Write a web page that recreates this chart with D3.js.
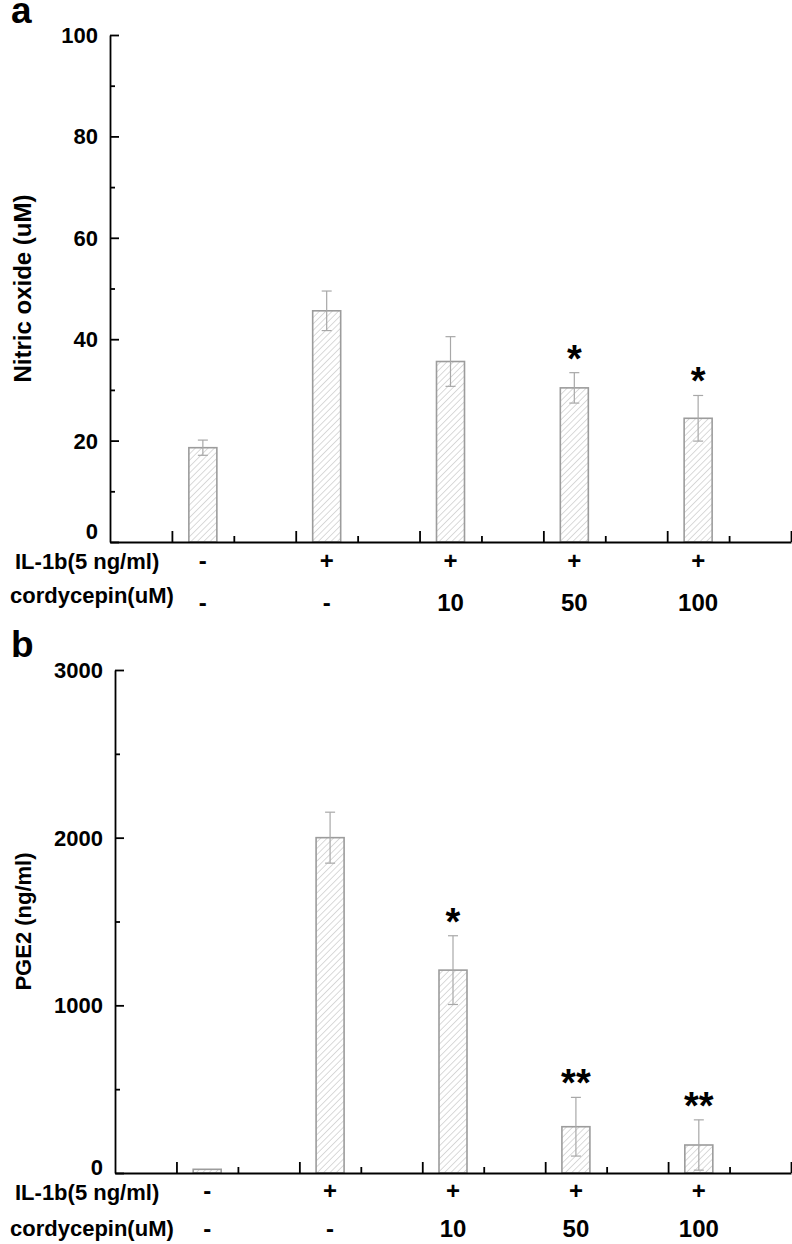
<!DOCTYPE html>
<html>
<head>
<meta charset="utf-8">
<script src="https://cdn.jsdelivr.net/npm/d3@7"></script>
<style>
  body { margin: 0; background: #fff; }
  svg { font-family: "Liberation Sans", Arial, sans-serif; font-weight: bold; }
</style>
</head>
<body>
<div id="chart"></div>
<script>
// data
var groups = [1, 2, 3, 4, 5]
var il1bLabels = ['-', '+', '+', '+', '+']
var cordyLabels = ['-', '-', '10', '50', '100']

var noMeans = [18.6, 45.6, 35.6, 30.4, 24.4]
var noErrs = [1.5, 3.9, 4.9, 3.0, 4.5]
var noStars = ['', '', '', '*', '*']
var noTicks = [0, 20, 40, 60, 80, 100]
var noMinor = [10, 30, 50, 70, 90]

var pgeMeans = [22, 2000, 1210, 276, 167]
var pgeErrs = [0, 152, 205, 175, 150]
var pgeStars = ['', '', '*', '**', '**']
var pgeTicks = [0, 1000, 2000, 3000]
var pgeMinor = [500, 1500, 2500]

var xMajor = [0.75, 1.75, 2.75, 3.75, 4.75, 5.75]
var xMinor = [1.25, 2.25, 3.25, 4.25, 5.25]

var W = 792, H = 1244
var barW = 28

var svg = d3.select('#chart').append('svg')
    .attr('width', W)
    .attr('height', H)

// hatch fill for the bars
var defs = svg.append('defs')
defs.append('pattern')
    .attr('id', 'hatch')
    .attr('patternUnits', 'userSpaceOnUse')
    .attr('width', 4.5)
    .attr('height', 4.5)
    .attr('patternTransform', 'rotate(45)')
  .append('line')
    .attr('x1', 0).attr('y1', 0)
    .attr('x2', 0).attr('y2', 4.5)
    .attr('stroke', '#adadad')
    .attr('stroke-width', 0.9)

drawPanel({
    letter: 'a', letterY: 23,
    left: 110, right: 791, top: 35, bottom: 542,
    max: 100, ticks: noTicks, minor: noMinor, zeroShift: -11,
    means: noMeans, errs: noErrs, stars: noStars,
    ylabel: 'Nitric oxide (uM)', ylabelSize: 24,
    row1: 569, row2: 611, label1: 569, label2: 603
})

drawPanel({
    letter: 'b', letterY: 657,
    left: 115, right: 791, top: 670, bottom: 1173,
    max: 3000, ticks: pgeTicks, minor: pgeMinor, zeroShift: -6,
    means: pgeMeans, errs: pgeErrs, stars: pgeStars,
    ylabel: 'PGE2 (ng/ml)', ylabelSize: 22,
    row1: 1199, row2: 1237, label1: 1200, label2: 1236
})

function drawPanel(p)
{
    var g = svg.append('g')

    var x = d3.scaleLinear()
        .domain([0.25, 5.75])
        .range([p.left, p.right])
    var y = d3.scaleLinear()
        .domain([0, p.max])
        .range([p.bottom, p.top])

    // bars
    g.selectAll('.bar')
        .data(groups)
        .enter().append('rect')
        .attr('x', function(d) { return x(d) - barW / 2 })
        .attr('y', function(d, i) { return y(p.means[i]) })
        .attr('width', barW)
        .attr('height', function(d, i) { return y(0) - y(p.means[i]) })
        .attr('fill', 'url(#hatch)')
        .attr('stroke', '#9c9c9c')
        .attr('stroke-width', 1.6)

    // error bars
    groups.forEach(function(d, i) {
        if (!p.errs[i]) return
        var hi = y(p.means[i] + p.errs[i]), lo = y(p.means[i] - p.errs[i])
        var eb = g.append('g').attr('stroke', '#a8a8a8').attr('stroke-width', 1.2)
        eb.append('line').attr('x1', x(d)).attr('x2', x(d)).attr('y1', hi).attr('y2', lo)
        eb.append('line').attr('x1', x(d) - 5).attr('x2', x(d) + 5).attr('y1', hi).attr('y2', hi)
        eb.append('line').attr('x1', x(d) - 5).attr('x2', x(d) + 5).attr('y1', lo).attr('y2', lo)
    })

    // significance stars
    g.selectAll('.star')
        .data(groups)
        .enter().append('text')
        .attr('x', function(d) { return x(d) })
        .attr('y', function(d, i) { return y(p.means[i] + p.errs[i]) - 1 })
        .attr('text-anchor', 'middle')
        .style('font-size', '38px')
        .text(function(d, i) { return p.stars[i] })

    // y axis
    var yAxis = g.append('g')
        .attr('transform', 'translate(' + p.left + ',0)')
        .call(d3.axisLeft(y).tickValues(p.ticks).tickSize(-9).tickSizeOuter(0)
            .tickPadding(12).tickFormat(d3.format('d')))
    yAxis.selectAll('text')
        .style('font-size', '22px')
        .style('font-family', '"Liberation Sans", Arial, sans-serif')
        .attr('fill', '#000')
        .attr('dy', function(d) { return d === 0 ? (p.zeroShift + 7) + 'px' : '0.34em' })
    g.append('g')
        .attr('transform', 'translate(' + p.left + ',0)')
        .call(d3.axisLeft(y).tickValues(p.minor).tickSize(-5).tickSizeOuter(0).tickFormat(''))
        .select('.domain').remove()

    // x axis, ticks only
    g.append('g')
        .attr('transform', 'translate(0,' + p.bottom + ')')
        .call(d3.axisBottom(x).tickValues(xMajor).tickSize(-11).tickSizeOuter(0).tickFormat(''))
    g.append('g')
        .attr('transform', 'translate(0,' + p.bottom + ')')
        .call(d3.axisBottom(x).tickValues(xMinor).tickSize(-6).tickSizeOuter(0).tickFormat(''))
        .select('.domain').remove()

    g.selectAll('.domain, .tick line')
        .attr('stroke', '#000')
        .attr('stroke-width', 1.8)

    // treatment rows under the axis
    g.selectAll('.row1')
        .data(groups)
        .enter().append('text')
        .attr('x', function(d) { return x(d) })
        .attr('y', p.row1)
        .attr('text-anchor', 'middle')
        .style('font-size', '24px')
        .text(function(d, i) { return il1bLabels[i] })
    g.selectAll('.row2')
        .data(groups)
        .enter().append('text')
        .attr('x', function(d) { return x(d) })
        .attr('y', p.row2)
        .attr('text-anchor', 'middle')
        .style('font-size', '24px')
        .text(function(d, i) { return cordyLabels[i] })

    g.append('text').attr('x', 15).attr('y', p.label1)
        .style('font-size', '22px').text('IL-1b(5 ng/ml)')
    g.append('text').attr('x', 10).attr('y', p.label2)
        .style('font-size', '22px').text('cordycepin(uM)')

    // y axis title
    g.append('text')
        .attr('text-anchor', 'middle')
        .attr('transform', 'translate(31,' + (p.top + p.bottom) / 2 + ') rotate(-90)')
        .style('font-size', p.ylabelSize + 'px')
        .text(p.ylabel)

    // panel letter
    g.append('text').attr('x', 11).attr('y', p.letterY)
        .style('font-size', '37px')
        .text(p.letter)
}
</script>
</body>
</html>
